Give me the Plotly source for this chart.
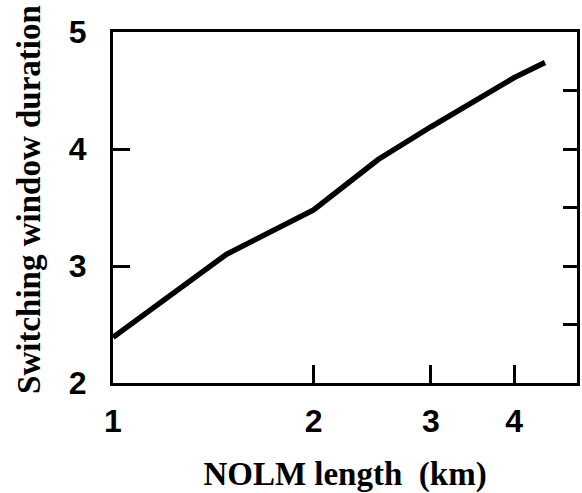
import plotly.graph_objects as go
import math

nolm_length_km = [1.0, 1.48, 2.0, 2.5, 3.0, 4.0, 4.45]
switching_window = [2.39, 3.10, 3.48, 3.91, 4.19, 4.61, 4.74]

x_ticks = [1, 2, 3, 4]
y_ticks = [2, 3, 4, 5]
y_minor_ticks = [2.5, 3, 3.5, 4, 4.5]

fig = go.Figure()
fig.add_trace(go.Scatter(x=nolm_length_km, y=switching_window, mode="lines",
                         line=dict(color="black", width=5.5),
                         showlegend=False))
fig.add_trace(go.Scatter(x=[1], y=[2], yaxis="y2", mode="markers",
                         marker=dict(opacity=0), showlegend=False, hoverinfo="skip"))

tickfont = dict(family="Liberation Sans", size=32, color="black", weight="bold")
titlefont = dict(family="Liberation Serif", size=33, color="black", weight="bold")

fig.update_layout(
    width=582, height=493,
    margin=dict(l=113, r=2, t=32, b=109),
    paper_bgcolor="white", plot_bgcolor="white",
    xaxis=dict(type="log", range=[0, math.log10(4.97)], tickvals=x_ticks,
               ticktext=[str(v) for v in x_ticks],
               ticks="inside", ticklen=18, tickwidth=3, tickcolor="black",
               showline=True, linewidth=3, linecolor="black", mirror=True,
               showgrid=False, zeroline=False, tickfont=tickfont,
               ticklabelstandoff=8,
               title=dict(text="NOLM length  (km)", font=titlefont, standoff=28)),
    yaxis=dict(range=[2, 5], tickvals=y_ticks, ticks="inside", ticklen=17,
               tickwidth=3, tickcolor="black",
               showline=True, linewidth=3, linecolor="black", mirror=True,
               showgrid=False, zeroline=False, tickfont=tickfont,
               ticklabelstandoff=17),
    yaxis2=dict(range=[2, 5], overlaying="y", side="right", tickvals=y_minor_ticks,
                ticks="inside", ticklen=14, tickwidth=3, tickcolor="black",
                showticklabels=False, showline=False, showgrid=False, zeroline=False),
    annotations=[dict(text="Switching window duration", font=titlefont,
                      textangle=-90, showarrow=False,
                      xref="paper", yref="paper", x=-0.18, y=0.523,
                      xanchor="center", yanchor="middle")],
)

fig.write_html("out.html")
